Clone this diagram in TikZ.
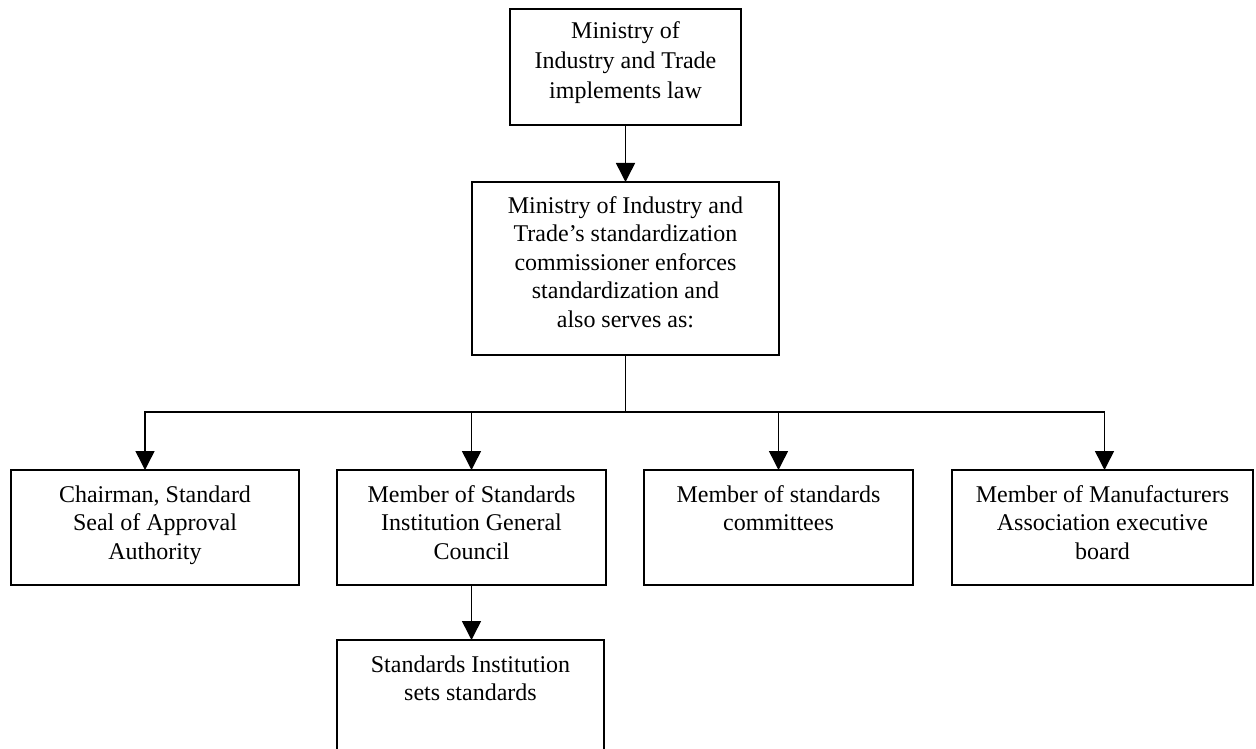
\documentclass[tikz,border=0pt]{standalone}
\usepackage{fontspec}
\setmainfont{Liberation Serif}
\usetikzlibrary{arrows.meta}
\newcommand\bt[5]{\begin{minipage}[t][#2pt][t]{#1pt}\fontsize{24}{#4}\selectfont\centering\rule{0pt}{#3pt}#5\end{minipage}}
\begin{document}
\begin{tikzpicture}[x=1pt,y=-1pt,
  box/.style={draw, line width=1.5pt, inner sep=0pt, outer sep=0pt, anchor=north west},
  conn/.style={line width=1.5pt},
  arr/.style={conn, -{Triangle[width=19pt,length=19pt]}}]
\useasboundingbox (0,0) rectangle (1256,749);
\node[box] (top) at (510,9) {\bt{231}{116}{30}{30}{Ministry of\\Industry and Trade\\implements law}};
\node[box] (mid) at (472,182) {\bt{307}{173}{31}{28.5}{Ministry of Industry and\\Trade’s standardization\\commissioner enforces\\standardization and\\also serves as:}};
\node[box] (c1) at (11,470) {\bt{288}{115}{32}{28.5}{Chairman, Standard\\Seal of Approval\\Authority}};
\node[box] (c2) at (337,470) {\bt{269}{115}{32}{28.5}{Member of Standards\\Institution General\\Council}};
\node[box] (c3) at (644,470) {\bt{269}{115}{32}{28.5}{Member of standards\\committees}};
\node[box] (c4) at (952,470) {\bt{301}{115}{32}{28.5}{Member of Manufacturers\\Association executive\\board}};
\begin{scope}
\clip (0,0) rectangle (1256,749);
\node[box] (d) at (337,640) {\bt{267}{125}{32}{28.5}{Standards Institution\\sets standards}};
\end{scope}
\coordinate (bus) at (mid.south |- 0,412);
\draw[arr] (top.south) -- (mid.north);
\draw[conn] (mid.south) -- (bus);
\draw[arr] (bus) -| ([xshift=-10pt]c1.north);
\draw[arr] (bus) -| (c2.north);
\draw[arr] (bus) -| (c3.north);
\draw[arr] (bus) -| ([xshift=2pt]c4.north);
\draw[arr] (c2.south) -- (c2.south |- d.north);
\end{tikzpicture}
\end{document}
